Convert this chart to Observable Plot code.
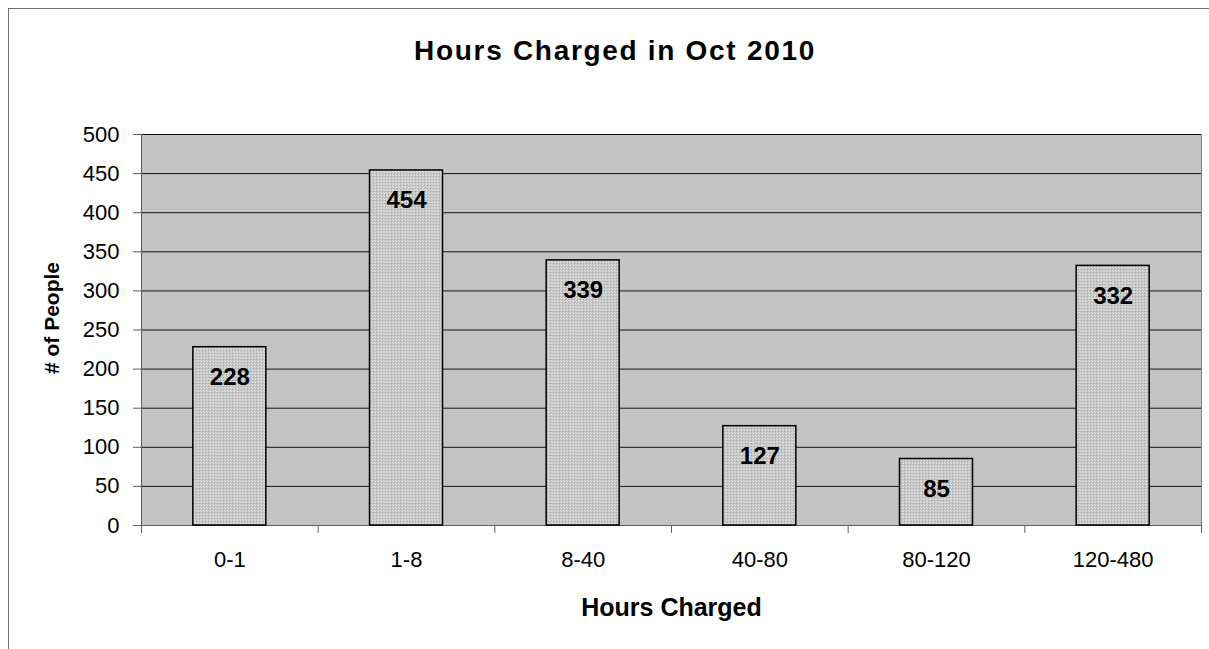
<!DOCTYPE html>
<html>
<head>
<meta charset="utf-8">
<script src="https://cdn.jsdelivr.net/npm/d3@7"></script>
<script src="https://cdn.jsdelivr.net/npm/@observablehq/plot@0.6"></script>
<style>
  html, body { margin: 0; padding: 0; background: #fff; overflow: hidden; }
  body { font-family: "Liberation Sans", Arial, sans-serif; position: relative; width: 1209px; height: 649px; }
  #border { position: absolute; left: 8px; top: 8px; width: 1400px; height: 900px;
            border-left: 1px solid #707070; border-top: 1px solid #707070; pointer-events: none; }
  #title { height: 100px; box-sizing: border-box; padding-top: 36px; padding-left: 21px;
           text-align: center; font-size: 28px; font-weight: bold; line-height: 30px;
           letter-spacing: 1.7px; color: #000; }
  #chart svg { display: block; }
</style>
</head>
<body>
<svg width="0" height="0" style="position:absolute">
  <defs>
    <pattern id="bgpat" width="2" height="2" patternUnits="userSpaceOnUse">
      <rect width="2" height="2" fill="#b0b0b0"/>
      <rect width="1" height="1" fill="#d6d6d6"/>
      <rect x="1" y="1" width="1" height="1" fill="#d6d6d6"/>
    </pattern>
    <pattern id="barpat" width="3" height="3" patternUnits="userSpaceOnUse">
      <rect width="3" height="3" fill="#c6c6c6"/>
      <rect x="0" y="0" width="1" height="1" fill="#e4e4e4"/>
      <rect x="1" y="1" width="1" height="1" fill="#a8a8a8"/>
      <rect x="2" y="2" width="1" height="1" fill="#dedede"/>
    </pattern>
  </defs>
</svg>
<div id="border"></div>
<div id="title">Hours Charged in Oct 2010</div>
<div id="chart"></div>
<script>
const categories = ["0-1", "1-8", "8-40", "40-80", "80-120", "120-480"];
const people = [228, 454, 339, 127, 85, 332];
const yTicks = [0, 50, 100, 150, 200, 250, 300, 350, 400, 450, 500];
const titleText = "Hours Charged in Oct 2010";
const xLabel = "Hours Charged";
const yLabel = "# of People";

const data = categories.map((c, i) => ({ cat: c, n: people[i] }));

const W = 1209, H = 549;
const mL = 141, mR = 8, mT = 34, mB = 124;
const step = (W - mL - mR) / categories.length;

const plot = Plot.plot({
  width: W,
  height: H,
  marginLeft: mL,
  marginRight: mR,
  marginTop: mT,
  marginBottom: mB,
  style: { fontFamily: '"Liberation Sans", Arial, sans-serif', fontSize: "22px", color: "#000", background: "transparent" },
  x: { domain: categories, paddingInner: 0.587, paddingOuter: 0.2935, align: 0.5, round: false },
  y: { domain: [0, 500] },
  marks: [
    Plot.frame({ fill: "url(#bgpat)", stroke: "#808080" }),
    Plot.gridY(yTicks.filter(d => d > 0), { stroke: "#000", strokeOpacity: 0.9, strokeWidth: 1 }),
    Plot.ruleY([0], { stroke: "#606060", strokeWidth: 1 }),
    Plot.frame({ anchor: "left", stroke: "#606060" }),
    Plot.axisY(yTicks, { tickSize: 8, tickPadding: 14, fontSize: 22, label: null, stroke: "#606060" }),
    Plot.axisX({ tickSize: 0, tickPadding: 26, fontSize: 22, label: null }),
    Plot.axisX(categories, { tickSize: 8, text: null, dx: -step / 2, label: null, stroke: "#606060" }),
    Plot.axisX([categories[categories.length - 1]], { tickSize: 8, text: null, dx: step / 2, label: null, stroke: "#606060" }),
    Plot.barY(data, { x: "cat", y: "n", fill: "url(#barpat)", stroke: "#000", strokeWidth: 1.5 }),
    Plot.text(data, { x: "cat", y: "n", text: d => String(d.n), dy: 30, fontSize: 24, fontWeight: "bold", fill: "#000" }),
    Plot.text([yLabel], { frameAnchor: "left", rotate: -90, dx: -89, dy: -12, fontSize: 21, fontWeight: "bold", fill: "#000", textAnchor: "middle", lineAnchor: "middle" }),
    Plot.text([xLabel], { frameAnchor: "bottom", dy: 82, lineAnchor: "middle", fontSize: 25, fontWeight: "bold", fill: "#000" })
  ]
});
document.getElementById("chart").appendChild(plot);
</script>
</body>
</html>
